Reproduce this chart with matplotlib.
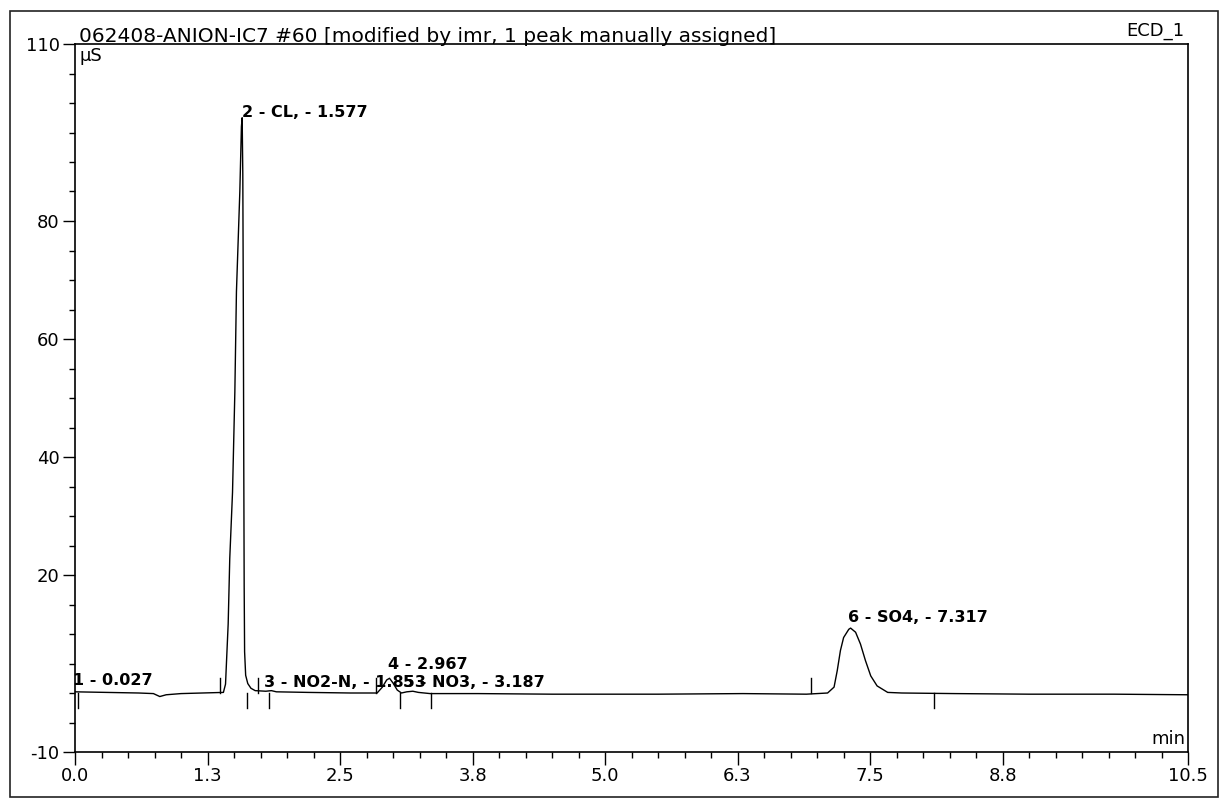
import numpy as np
import matplotlib
matplotlib.use("Agg")
import matplotlib.pyplot as plt
from matplotlib.patches import Rectangle
from matplotlib.ticker import FixedLocator

plt.rcParams["axes.unicode_minus"] = False

# --- Cromatograma ECD_1 (tiempo en min, señal en µS) ---
tiempo = [0.00, 0.30, 0.60, 0.74, 0.80, 0.86, 1.00, 1.20, 1.40,
          1.42, 1.445, 1.46, 1.486, 1.508, 1.523, 1.555, 1.570, 1.577,
          1.583, 1.588, 1.592, 1.596, 1.600, 1.610, 1.630, 1.660, 1.700, 1.800,
          1.853, 1.900, 2.200, 2.600, 2.850, 2.900, 2.940, 2.967, 3.000, 3.040, 3.080,
          3.130, 3.187, 3.240, 3.350, 3.800, 4.500, 5.500, 6.300, 6.900, 7.100,
          7.161, 7.191, 7.221, 7.251, 7.300, 7.317, 7.364, 7.410, 7.457, 7.507,
          7.567, 7.667, 7.800, 8.300, 9.000, 9.800, 10.50]
senal = [0.2, 0.1, 0.0, -0.1, -0.6, -0.3, -0.1, 0.0, 0.1,
         1.5, 11.7, 22.8, 34.0, 51.0, 68.0, 85.0, 96.0, 97.5,
         88.0, 65.0, 40.0, 18.0, 7.0, 3.0, 1.6, 0.8, 0.4, 0.3,
         0.4, 0.2, 0.1, 0.0, 0.0, 1.0, 2.2, 2.5, 1.7, 0.5, 0.0,
         0.2, 0.3, 0.1, -0.1, -0.1, -0.2, -0.2, -0.1, -0.2, 0.0,
         1.0, 3.8, 7.2, 9.4, 10.8, 11.0, 10.3, 8.3, 5.5, 2.9,
         1.2, 0.1, 0.0, -0.1, -0.2, -0.2, -0.3]

# Picos identificados
pico_num = [1, 2, 3, 4, 5, 6]
pico_nombre = ["", "CL", "NO2-N", "", "NO3", "SO4"]
pico_tr = [0.027, 1.577, 1.853, 2.967, 3.187, 7.317]
pico_altura = [0.2, 97.5, 0.4, 2.5, 0.3, 11.0]

# Delimitadores de integración
delim_arriba = [1.37, 1.73, 2.84, 6.94]
delim_abajo = [0.03, 1.62, 1.83, 3.07, 3.36, 8.10]

# Ejes
x_ticks = [0.0, 1.25, 2.5, 3.75, 5.0, 6.25, 7.5, 8.75, 10.5]
x_labels = ["0.0", "1.3", "2.5", "3.8", "5.0", "6.3", "7.5", "8.8", "10.5"]
y_ticks = [-10, 20, 40, 60, 80, 110]

titulo = "062408-ANION-IC7 #60 [modified by imr, 1 peak manually assigned]"

fig = plt.figure(figsize=(12.25, 8.08), dpi=100)
ax = fig.add_axes([75 / 1225, 56 / 808, 1113 / 1225, 708 / 808])

ax.plot(tiempo, senal, color="black", lw=1.0)

for t in delim_arriba:
    ax.plot([t, t], [0, 2.5], color="black", lw=1.0)
for t in delim_abajo:
    ax.plot([t, t], [0, -2.5], color="black", lw=1.0)

# Etiquetas de los picos (desplazamientos a mano, la 3 y la 5 se pisan)
dx = [-0.05, 0.0, -0.07, -0.01, -0.09, -0.02]
dy = [1.1, 0.1, 0.7, 1.5, 0.8, 1.0]
for i in range(len(pico_num)):
    if pico_nombre[i]:
        txt = f"{pico_num[i]} - {pico_nombre[i]}, - {pico_tr[i]:.3f}"
    else:
        txt = f"{pico_num[i]} - {pico_tr[i]:.3f}"
    ax.text(pico_tr[i] + dx[i], pico_altura[i] + dy[i], txt,
            ha="left", va="baseline", fontsize=11.5, fontweight="bold")

ax.set_xlim(0, 10.5)
ax.set_ylim(-10, 110)
ax.xaxis.set_major_locator(FixedLocator(x_ticks))
ax.set_xticklabels(x_labels)
ax.xaxis.set_minor_locator(FixedLocator(np.arange(0, 10.51, 0.25)))
ax.yaxis.set_major_locator(FixedLocator(y_ticks))
ax.yaxis.set_minor_locator(FixedLocator(np.arange(-10, 111, 5)))

ax.tick_params(which="major", direction="out", length=9, width=1.0,
               labelsize=13, pad=2)
ax.tick_params(which="minor", direction="out", length=4, width=1.0)
for s in ax.spines.values():
    s.set_linewidth(1.2)

ax.text(0.004, 1.003, titulo, transform=ax.transAxes, ha="left",
        va="baseline", fontsize=14.5)
ax.text(0.997, 1.012, "ECD_1", transform=ax.transAxes, ha="right",
        va="baseline", fontsize=13)
ax.text(0.004, 0.996, "µS", transform=ax.transAxes, ha="left", va="top",
        fontsize=13)
ax.text(0.998, 0.006, "min", transform=ax.transAxes, ha="right",
        va="bottom", fontsize=13)

# Marco exterior de la hoja
fig.add_artist(Rectangle((10 / 1225, 11 / 808), 1208 / 1225, 786 / 808,
                         transform=fig.transFigure, fill=False,
                         lw=1.2, ec="#222222"))

fig.savefig("out.png", dpi=100)
